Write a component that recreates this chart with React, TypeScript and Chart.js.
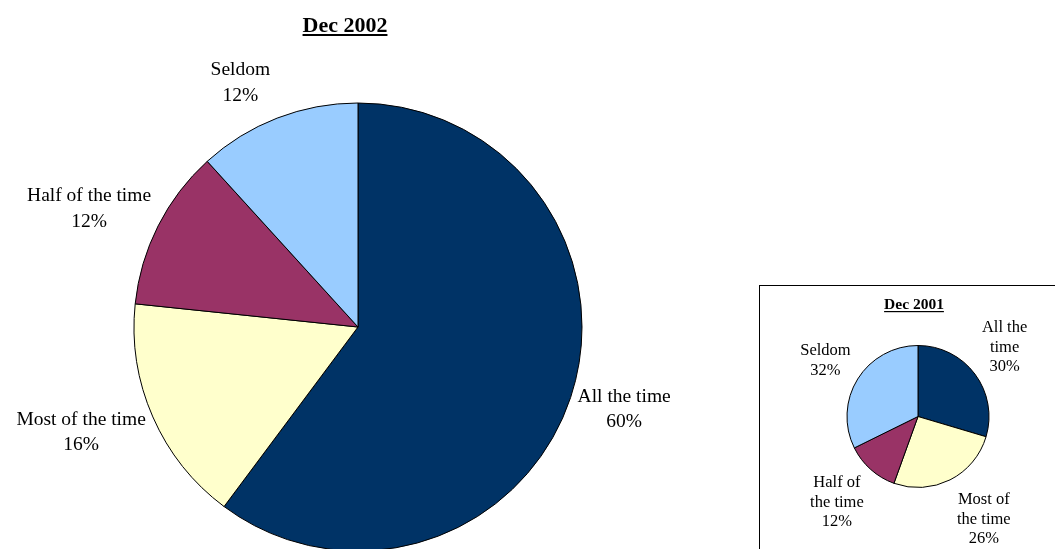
import React, { useEffect, useRef } from 'react';
import { Chart, registerables } from 'chart.js';

Chart.register(...registerables);

// ---- data ----
const categories = ['All the time', 'Most of the time', 'Half of the time', 'Seldom'];
const dec2002Values = [60.2, 16.45, 11.6, 11.75];
const dec2001Values = [29.6, 25.9, 12.2, 32.3];
const dec2001LabelLines = [['All the', 'time'], ['Most of', 'the time'], ['Half of', 'the time'], ['Seldom']];
const sliceColors = ['#003366', '#FFFFCC', '#993366', '#99CCFF'];
const mainTitle = 'Dec 2002';
const insetTitle = 'Dec 2001';

const FONT = '"Liberation Serif", "Times New Roman", Times, serif';

type LabelCfg = {
  id: string;
  lines: string[][];
  fontSize: number;
  lineHeight: number;
  gapX: number;
  gapY: number;
  title: string;
  titleSize: number;
  titleDx: number; // offset of title centre from pie centre
  titleY: number; // baseline
  underline: number;
};

function makeLabelPlugin(cfg: LabelCfg) {
  return {
    id: cfg.id,
    afterDraw(chart: any) {
      const ctx: CanvasRenderingContext2D = chart.ctx;
      const meta = chart.getDatasetMeta(0);
      const data = chart.data.datasets[0].data as number[];
      const total = data.reduce((a, b) => a + b, 0);
      ctx.save();
      ctx.fillStyle = '#000';
      ctx.font = `${cfg.fontSize}px ${FONT}`;
      ctx.textAlign = 'center';
      ctx.textBaseline = 'middle';
      let pcx = 0;
      meta.data.forEach((arc: any, i: number) => {
        const p = arc.getProps(['x', 'y', 'startAngle', 'endAngle', 'outerRadius'], true);
        pcx = p.x;
        const mid = (p.startAngle + p.endAngle) / 2;
        const dx = Math.cos(mid);
        const dy = Math.sin(mid);
        const ax = p.x + p.outerRadius * dx;
        const ay = p.y + p.outerRadius * dy;
        const lines = [...cfg.lines[i], Math.round((data[i] / total) * 100) + '%'];
        const w = Math.max(...lines.map((l) => ctx.measureText(l).width));
        const h = lines.length * cfg.lineHeight;
        let cx: number;
        if (Math.abs(dx) > 0.3) cx = dx > 0 ? ax + cfg.gapX + w / 2 : ax - cfg.gapX - w / 2;
        else cx = ax + dx * (cfg.gapX + w / 2);
        const cy = ay + dy * (cfg.gapY + h / 2);
        lines.forEach((l, k) => {
          ctx.fillText(l, cx, cy + (k - (lines.length - 1) / 2) * cfg.lineHeight);
        });
      });
      // title
      ctx.font = `bold ${cfg.titleSize}px ${FONT}`;
      ctx.textBaseline = 'alphabetic';
      const tx = pcx + cfg.titleDx;
      ctx.fillText(cfg.title, tx, cfg.titleY);
      const tw = ctx.measureText(cfg.title).width;
      ctx.fillRect(tx - tw / 2, cfg.titleY + 2, tw, cfg.underline);
      ctx.restore();
    },
  };
}

function PieCanvas(props: {
  values: number[];
  radius: number;
  width: number;
  height: number;
  cfg: LabelCfg;
  style: React.CSSProperties;
}) {
  const ref = useRef<HTMLCanvasElement>(null);
  useEffect(() => {
    if (!ref.current) return;
    const chart = new Chart(ref.current, {
      type: 'pie',
      data: {
        labels: categories,
        datasets: [
          {
            data: props.values,
            backgroundColor: sliceColors,
            borderColor: '#000000',
            borderWidth: 1,
            radius: props.radius,
          } as any,
        ],
      },
      options: {
        responsive: false,
        animation: false,
        layout: { padding: 0 },
        plugins: {
          legend: { display: false },
          tooltip: { enabled: false },
          title: { display: false },
        },
      },
      plugins: [makeLabelPlugin(props.cfg)],
    });
    return () => chart.destroy();
  }, []);
  return <canvas ref={ref} width={props.width} height={props.height} style={{ display: 'block', ...props.style }} />;
}

export default function App() {
  const mainCfg: LabelCfg = {
    id: 'mainLabels',
    lines: categories.map((c) => [c]),
    fontSize: 19.5,
    lineHeight: 25.5,
    gapX: 7,
    gapY: 12.5,
    title: mainTitle,
    titleSize: 22,
    titleDx: -13,
    titleY: 32,
    underline: 2,
  };
  const insetCfg: LabelCfg = {
    id: 'insetLabels',
    lines: dec2001LabelLines,
    fontSize: 16.5,
    lineHeight: 19.5,
    gapX: 7,
    gapY: 15,
    title: insetTitle,
    titleSize: 15.5,
    titleDx: -4,
    titleY: 23,
    underline: 1.2,
  };
  return (
    <div
      style={{
        position: 'absolute',
        left: 0,
        top: 0,
        width: 1055,
        height: 549,
        overflow: 'hidden',
        background: '#fff',
      }}
    >
      <PieCanvas
        values={dec2002Values}
        radius={224}
        width={716}
        height={654}
        cfg={mainCfg}
        style={{ position: 'absolute', left: 0, top: 0 }}
      />
      <div
        style={{
          position: 'absolute',
          left: 759,
          top: 285,
          width: 400,
          height: 400,
          border: '1px solid #000',
          background: '#fff',
        }}
      >
        <PieCanvas
          values={dec2001Values}
          radius={71}
          width={316}
          height={261}
          cfg={insetCfg}
          style={{ position: 'absolute', left: 0, top: 0 }}
        />
      </div>
    </div>
  );
}
